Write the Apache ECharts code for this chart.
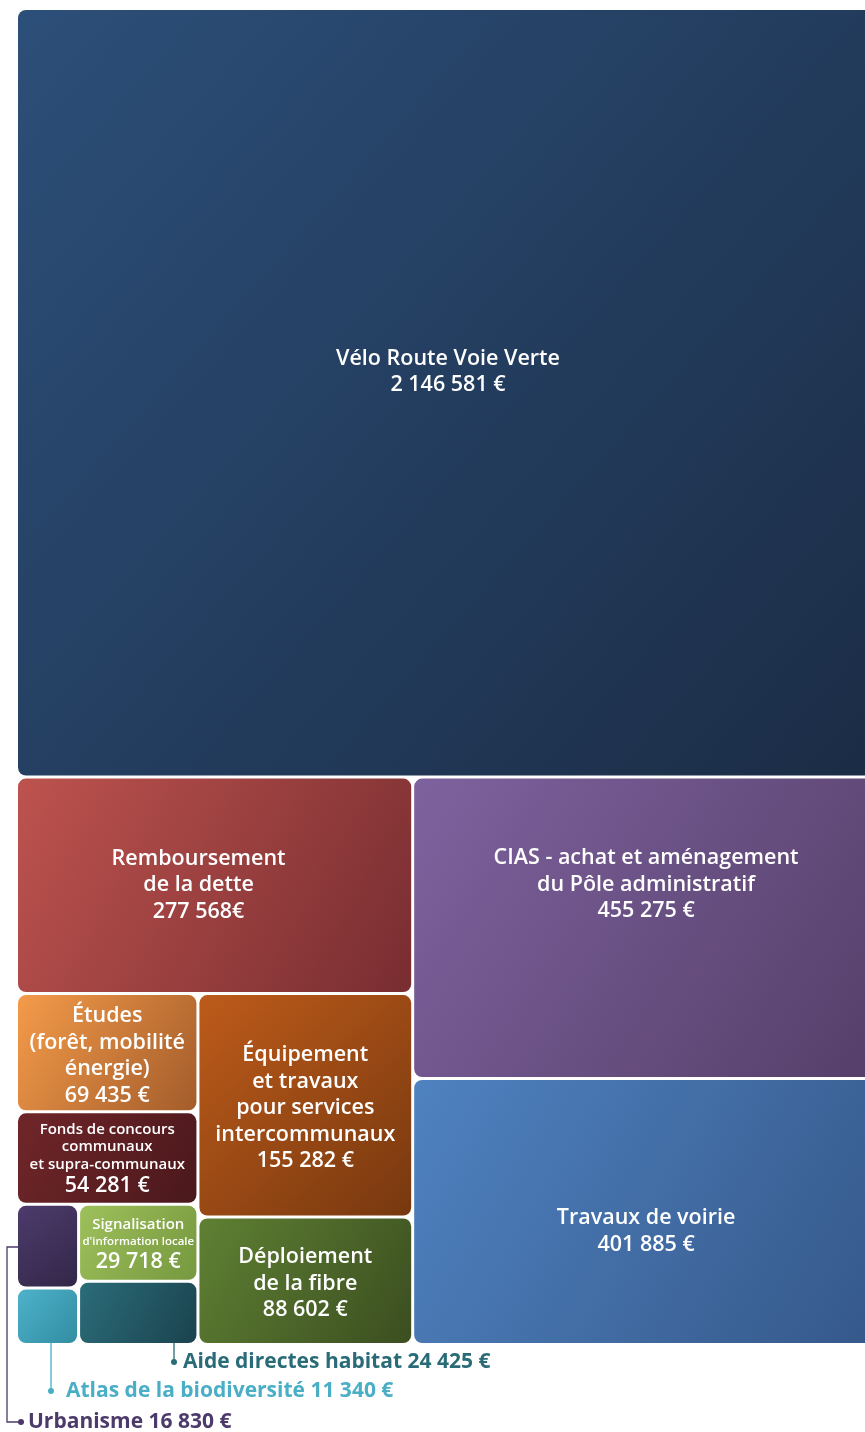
<!DOCTYPE html>
<html><head><meta charset="utf-8">
<script src="https://cdn.jsdelivr.net/npm/echarts@6/dist/echarts.min.js"></script>
<style>html,body{margin:0;padding:0;background:#fff}#c{width:865px;height:1432px}</style>
</head><body><div id="c"></div>
<script>
// ---- data ----
const names = ["Vélo Route Voie Verte", "Remboursement de la dette", "CIAS - achat et aménagement du Pôle administratif",
  "Travaux de voirie", "Études (forêt, mobilité énergie)", "Fonds de concours communaux et supra-communaux",
  "Équipement et travaux pour services intercommunaux", "Déploiement de la fibre",
  "Signalisation d'information locale", "Urbanisme", "Atlas de la biodiversité", "Aide directes habitat"];
const nameLines = [["Vélo Route Voie Verte"], ["Remboursement", "de la dette"], ["CIAS - achat et aménagement", "du Pôle administratif"],
  ["Travaux de voirie"], ["Études", "(forêt, mobilité", "énergie)"], ["Fonds de concours", "communaux", "et supra-communaux"],
  ["Équipement", "et travaux", "pour services", "intercommunaux"], ["Déploiement", "de la fibre"],
  ["Signalisation", "d'information locale"], [], [], []];
const values = [2146581, 277568, 455275, 401885, 69435, 54281, 155282, 88602, 29718, 16830, 11340, 24425];
const euroSep = [" €", "€", " €", " €", " €", " €", " €", " €", " €", " €", " €", " €"];
// grouping of the treemap (indices into the arrays above)
const groups = [0, [[1, [[4, 5, [[9, 10], [8, 11]]], [6, 7]]], [2, 3]]];

// ---- styles ----
const gradients = [
  ["#2c4f79", "#1b2c45"], ["#bd534e", "#782d31"], ["#7e629e", "#553f69"], ["#4f82c0", "#35588a"],
  ["#f49b4a", "#a35c2a"], ["#702629", "#4a181c"], ["#bd5b1a", "#77380f"], ["#5f8033", "#3b4e20"],
  ["#9ec05b", "#76983f"], ["#4d3b6c", "#322748"], ["#4db2ca", "#328da2"], ["#2b6c79", "#1a434e"]
];
const FONT = 'Open Sans';
const labelRich = {
  n: {fontSize: 21.5, lineHeight: 26.5, fontWeight: 600, color: '#fff', fontFamily: FONT},
  v: {fontSize: 21.5, lineHeight: 26.5, fontWeight: 600, color: '#fff', fontFamily: FONT},
  s: {fontSize: 15, lineHeight: 17.5, fontWeight: 600, color: '#fff', fontFamily: FONT},
  t: {fontSize: 11.5, lineHeight: 15, fontWeight: 600, color: '#fff', fontFamily: FONT}
};
const lineStyleKeys = {5: ['s', 's', 's'], 8: ['s', 't']};
const labelShift = {0: [0, -21], 1: [-16, 0], 2: [0, -43], 3: [0, 20], 4: [0, 3], 5: [0, 2], 6: [0, 3], 7: [0, 3], 8: [0, 3]};

function fmt(i) {
  return values[i].toString().replace(/\B(?=(\d{3})+(?!\d))/g, ' ') + euroSep[i];
}
function leaf(i) {
  const lines = nameLines[i];
  const keys = (lineStyleKeys[i] || lines.map(() => 'n')).concat(['v']);
  const parts = lines.concat([fmt(i)]);
  const text = parts.map((l, k) => '{' + keys[k] + '|' + l + '}').join('\n');
  const blockH = keys.reduce((s, k) => s + labelRich[k].lineHeight, 0);
  const sh = labelShift[i] || [0, 0];
  return {
    name: names[i],
    value: values[i],
    itemStyle: {
      color: new echarts.graphic.LinearGradient(0, 0, 1, 1, [
        {offset: 0, color: gradients[i][0]}, {offset: 1, color: gradients[i][1]}]),
      borderRadius: 8
    },
    label: lines.length ? {show: true, formatter: text, offset: [sh[0], sh[1] - blockH / 2]} : {show: false}
  };
}
function build(g) {
  if (typeof g === 'number') return leaf(g);
  return {children: g.map(build)};
}
const tree = groups.map(build);

const chart = echarts.init(document.getElementById('c'), null, {renderer: 'canvas'});
const levels = [];
for (let k = 0; k < 8; k++) levels.push({itemStyle: {borderWidth: 0, gapWidth: 3, borderColor: '#fff'}});

// annotations (leader lines for the small cells)
const annColors = {9: '#4b3a6a', 10: '#4aaec6', 11: '#2a6b78'};
const fontAnn = 'bold 21px ' + FONT;
const graphic = [
  {type: 'line', shape: {x1: 174, y1: 1343, x2: 174, y2: 1361}, style: {stroke: annColors[11], lineWidth: 1.3}},
  {type: 'circle', shape: {cx: 174, cy: 1362, r: 3}, style: {fill: annColors[11]}},
  {type: 'text', x: 183, y: 1362, style: {text: names[11] + ' ' + fmt(11), font: fontAnn, fill: annColors[11], verticalAlign: 'middle'}},
  {type: 'line', shape: {x1: 51, y1: 1343, x2: 51, y2: 1390}, style: {stroke: annColors[10], lineWidth: 1.3}},
  {type: 'circle', shape: {cx: 51, cy: 1391, r: 3}, style: {fill: annColors[10]}},
  {type: 'text', x: 66, y: 1391, style: {text: names[10] + ' ' + fmt(10), font: fontAnn, fill: annColors[10], verticalAlign: 'middle'}},
  {type: 'polyline', shape: {points: [[18, 1247], [7, 1247], [7, 1422], [21, 1422]]}, style: {stroke: annColors[9], lineWidth: 1.3, fill: null}},
  {type: 'circle', shape: {cx: 21, cy: 1422, r: 3}, style: {fill: annColors[9]}},
  {type: 'text', x: 28, y: 1422, style: {text: names[9] + ' ' + fmt(9), font: fontAnn, fill: annColors[9], verticalAlign: 'middle'}}
];

chart.setOption({
  animation: false,
  backgroundColor: '#fff',
  series: [{
    type: 'treemap',
    left: 18, top: 10, width: 860, height: 1333,
    roam: false, nodeClick: false, silent: true,
    breadcrumb: {show: false},
    sort: false,
    squareRatio: 1,
    visibleMin: 0,
    levels: levels,
    upperLabel: {show: false},
    label: {show: true, position: ['50%', '50%'], align: 'center', verticalAlign: 'top', padding: 0,
      overflow: 'none', rich: labelRich, color: '#fff'},
    data: tree
  }],
  graphic: graphic
});
</script></body></html>
